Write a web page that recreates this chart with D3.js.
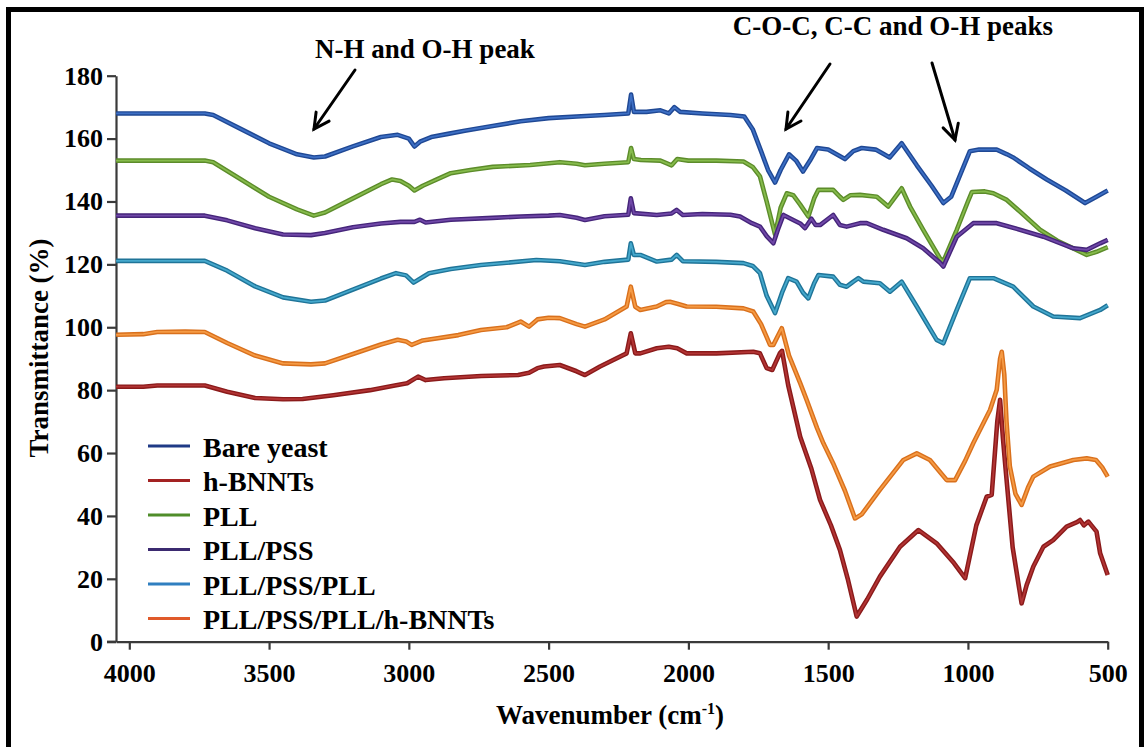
<!DOCTYPE html>
<html>
<head>
<meta charset="utf-8">
<script src="https://cdn.jsdelivr.net/npm/d3@7"></script>
<style>
  html, body { margin: 0; padding: 0; background: #ffffff; }
  svg { display: block; }
  text { font-family: "Liberation Serif", "Times New Roman", serif; font-weight: bold; fill: #000; }
</style>
</head>
<body>
<svg id="chart" width="1144" height="747"></svg>
<script>
// ---------------- DATA ----------------
const seriesNames = ["Bare yeast", "h-BNNTs", "PLL", "PLL/PSS", "PLL/PSS/PLL", "PLL/PSS/PLL/h-BNNTs"];
const xTickValues = [4000, 3500, 3000, 2500, 2000, 1500, 1000, 500];
const yTickValues = [0, 20, 40, 60, 80, 100, 120, 140, 160, 180];
const xTitle = "Wavenumber (cm";
const yTitle = "Transmittance (%)";
const annotationLeft = "N-H and O-H peak";
const annotationRight = "C-O-C, C-C and O-H peaks";

// [wavenumber (cm-1), transmittance (%)]
const bareYeast = [[4047,168],[3730,168],[3700,167.5],[3600,163],[3500,158.5],[3400,155],[3340,154],[3300,154.3],[3200,157.5],[3100,160.5],[3040,161.2],[3000,160],[2980,157.5],[2960,159],[2920,160.5],[2860,161.5],[2800,162.5],[2700,164],[2600,165.5],[2500,166.5],[2400,167],[2300,167.5],[2215,168],[2205,174],[2195,168.5],[2150,168.5],[2100,169],[2070,168],[2050,170],[2030,168.5],[1950,168],[1850,167.5],[1800,167],[1770,163],[1740,156],[1715,150],[1690,146],[1670,150],[1640,155],[1615,153],[1590,149.5],[1565,153],[1540,157],[1500,156.5],[1470,155],[1440,153.5],[1410,156],[1380,157],[1330,156.5],[1300,155],[1280,154],[1237,158.5],[1183,151.5],[1130,145],[1088,139.5],[1060,141.5],[1030,148],[993,156],[960,156.5],[897,156.5],[860,155],[838,154],[780,150.5],[718,147],[650,143.5],[581,139.5],[540,141.5],[500,143.5]];

const hBNNTs = [[4047,81.1],[3950,81.1],[3900,81.5],[3730,81.5],[3650,79.5],[3550,77.5],[3450,77.1],[3380,77.2],[3270,78.4],[3139,80],[3050,81.5],[3006,82.2],[2967,84.3],[2940,83.2],[2874,83.8],[2741,84.5],[2609,84.8],[2570,85.5],[2540,87],[2516,87.5],[2460,88],[2400,86],[2370,84.8],[2316,87.5],[2221,91.7],[2206,98.1],[2190,91.7],[2172,91.7],[2113,93.3],[2070,93.8],[2040,93.3],[2006,91.7],[1900,91.7],[1768,92.2],[1744,91.7],[1720,87],[1700,86.4],[1673,91.7],[1665,92.5],[1643,81.6],[1600,65.2],[1560,55],[1529,45.1],[1490,37],[1458,29.2],[1430,20],[1398,8],[1360,13.5],[1315,20.7],[1243,30.2],[1177,35.5],[1112,31.3],[1050,25],[1010,20.2],[970,37],[933,46.1],[915,46.7],[895,70],[885,76.9],[875,65],[867,56.7],[840,30],[808,12.2],[790,18],[766,23.9],[730,30.2],[695,32.3],[647,36.6],[610,38],[599,38.7],[585,37],[569,38.2],[540,35],[527,28.1],[500,21.2]];

const pll = [[4047,153],[3730,153],[3700,152.5],[3600,147],[3500,141.5],[3400,137.5],[3340,135.5],[3300,136.5],[3200,141],[3100,145.5],[3060,147],[3030,146.5],[3000,145],[2980,143.5],[2950,145],[2900,147],[2850,149],[2780,150],[2700,151],[2566,151.6],[2460,152.5],[2400,152],[2370,151.5],[2300,152],[2215,152.5],[2205,157],[2195,153.5],[2170,153.2],[2100,153],[2060,151.5],[2040,153.5],[2000,153],[1900,153],[1803,152.7],[1770,151],[1744,148],[1720,140],[1690,129.5],[1670,138],[1648,142.6],[1625,142],[1600,139],[1571,135.2],[1550,141],[1535,143.7],[1482,143.7],[1458,141.5],[1446,140.5],[1420,142],[1386,142.1],[1326,141.5],[1285,138.4],[1237,144.2],[1207,138.4],[1160,131],[1100,121.9],[1088,120.9],[1040,131],[1000,140],[986,143],[940,143.2],[909,142.6],[861,140.5],[814,136.8],[742,131],[680,127.5],[623,125.1],[575,123],[540,124],[500,125.5]];

const pllPss = [[4047,135.5],[3730,135.5],[3650,134],[3550,131.5],[3450,129.5],[3350,129.3],[3300,130],[3200,131.8],[3100,133],[3030,133.5],[2980,133.5],[2960,134.2],[2940,133.3],[2850,134.2],[2700,134.8],[2600,135.2],[2500,135.5],[2460,135.7],[2400,134.8],[2370,134.1],[2300,135.3],[2215,135.8],[2206,141],[2195,136.3],[2113,135.7],[2060,136.2],[2042,137.3],[2020,135.7],[1950,136],[1850,135.8],[1815,135.2],[1773,133.1],[1744,132],[1720,129],[1696,126.7],[1680,131],[1660,135.7],[1625,134.1],[1600,133],[1583,131.5],[1560,134.5],[1545,132.5],[1529,132.5],[1482,135.7],[1458,132.5],[1434,132],[1386,133.1],[1362,133.1],[1303,131],[1219,128.3],[1160,125.1],[1100,120.5],[1088,119.3],[1040,128.8],[981,133.1],[897,133.1],[814,131],[730,128.8],[623,125.1],[575,124.6],[527,126.7],[500,127.8]];

const pllPssPll = [[4047,121.1],[3730,121.1],[3650,118],[3550,113],[3450,109.5],[3350,108.1],[3300,108.5],[3200,112],[3100,115.5],[3046,117.2],[3010,116.5],[2983,114.2],[2950,116],[2928,117.2],[2850,118.5],[2742,119.8],[2650,120.5],[2544,121.4],[2460,121],[2400,120.2],[2370,119.8],[2300,120.8],[2215,121.5],[2206,126.7],[2195,123],[2172,123],[2113,120.9],[2060,121.5],[2042,123],[2020,121],[1900,120.8],[1803,120.4],[1770,119.5],[1744,117.2],[1720,110],[1690,104.5],[1665,111],[1643,115.6],[1613,114.5],[1590,111],[1571,109.2],[1550,114],[1535,116.6],[1482,116.1],[1458,113.5],[1434,112.9],[1410,114.5],[1392,115.6],[1374,114.5],[1315,114],[1279,111.3],[1237,114.5],[1183,106.6],[1112,96],[1088,94.9],[1040,105.5],[993,115.6],[909,115.6],[838,112.9],[766,106.6],[695,103.4],[599,102.9],[527,105.5],[500,107]];

const pllPssPllBNNTs = [[4047,97.6],[3950,97.8],[3900,98.5],[3800,98.6],[3730,98.5],[3650,95],[3550,91],[3450,88.5],[3350,88.2],[3300,88.5],[3200,91.5],[3100,94.5],[3040,96],[3010,95.5],[2990,94.4],[2950,95.8],[2823,97.5],[2742,99.1],[2650,100],[2600,101.8],[2570,100.2],[2540,102.5],[2500,103],[2460,102.9],[2400,101],[2370,100.2],[2300,102.5],[2221,106.6],[2206,112.9],[2190,106.5],[2172,105.5],[2113,106.6],[2080,108],[2066,108.1],[2040,107.5],[2006,106.6],[1900,106.5],[1803,106],[1768,105],[1740,101],[1708,94.4],[1696,94.4],[1666,99.7],[1640,91],[1600,82.2],[1577,76.9],[1540,68],[1517,63.1],[1482,56.7],[1440,48],[1404,39.2],[1380,40.5],[1315,48.3],[1231,57.8],[1183,59.9],[1136,57.8],[1076,51.4],[1046,51.4],[1010,57.5],[981,63.1],[921,73.7],[897,80.1],[885,90],[879,92.2],[870,85],[862,70],[850,55.7],[830,47],[808,43.5],[785,49],[766,52.5],[706,55.7],[623,57.8],[575,58.3],[542,57.8],[520,55.5],[500,52.5]];

// ---------------- STYLE ----------------
const lineEdge   = ["#1f4894", "#8a1a1a", "#5c8c2a", "#45257a", "#1f7498", "#d9701c"];
const lineCenter = ["#3d6fc4", "#b23434", "#86bb4c", "#7048a8", "#45a8cc", "#f59a44"];
const legendColor = ["#1f3a86", "#a32222", "#4f8d2a", "#3b2a70", "#2f7fc0", "#e05a2a"];

const seriesData = [bareYeast, hBNNTs, pll, pllPss, pllPssPll, pllPssPllBNNTs];
const drawOrder = [0, 1, 2, 3, 4, 5];

const svg = d3.select("#chart");
svg.append("rect").attr("x", 0).attr("y", 0).attr("width", 1144).attr("height", 747).attr("fill", "#fff");

const x = d3.scaleLinear().domain([4047.6, 500]).range([116, 1107.7]);
const y = d3.scaleLinear().domain([0, 180]).range([641.7, 75.7]);

// axes
const axisColor = "#3a3a3a";
const gx = svg.append("g").attr("transform", `translate(0,${y(0)})`)
  .call(d3.axisBottom(x).tickValues(xTickValues).tickSize(8).tickSizeOuter(0).tickPadding(13.5).tickFormat(d3.format("d")));
const gy = svg.append("g").attr("transform", `translate(${x.range()[0]},0)`)
  .call(d3.axisLeft(y).tickValues(yTickValues).tickSize(9).tickSizeOuter(0).tickPadding(4).tickFormat(d3.format("d")));
[gx, gy].forEach(g => {
  g.select(".domain").attr("stroke", axisColor).attr("stroke-width", 2.2);
  g.selectAll(".tick line").attr("stroke", axisColor).attr("stroke-width", 2.2);
  g.selectAll(".tick text").attr("fill", "#000").style("font-size", "26px")
    .style("font-family", '"Liberation Serif", serif').style("font-weight", "bold");
});
// extend x axis line left to the y-axis zero tick
svg.append("line").attr("x1", x.range()[0] - 9).attr("x2", x.range()[0]).attr("y1", y(0)).attr("y2", y(0))
  .attr("stroke", axisColor).attr("stroke-width", 2.2);

// series lines
const line = d3.line().x(d => x(d[0])).y(d => y(d[1]));
drawOrder.forEach(i => {
  svg.append("path").datum(seriesData[i]).attr("d", line).attr("fill", "none")
    .attr("stroke", lineEdge[i]).attr("stroke-width", 4.6).attr("stroke-linejoin", "round");
  svg.append("path").datum(seriesData[i]).attr("d", line).attr("fill", "none")
    .attr("stroke", lineCenter[i]).attr("stroke-width", 1.8).attr("stroke-linejoin", "round");
});

// axis titles
const xt = svg.append("text").attr("x", 610).attr("y", 724).attr("text-anchor", "middle").style("font-size", "27px");
xt.append("tspan").text(xTitle);
xt.append("tspan").attr("dy", -10).style("font-size", "16px").text("-1");
xt.append("tspan").attr("dy", 10).text(")");

svg.append("text").attr("transform", "translate(48,348) rotate(-90)").attr("text-anchor", "middle")
  .style("font-size", "27px").text(yTitle);

// legend
const legendY0 = 446, legendStep = 34.5;
seriesNames.forEach((name, i) => {
  const ly = legendY0 + i * legendStep;
  svg.append("line").attr("x1", 148).attr("x2", 190).attr("y1", ly).attr("y2", ly)
    .attr("stroke", legendColor[i]).attr("stroke-width", 3);
  svg.append("text").attr("x", 203).attr("y", ly + 10.5).style("font-size", "28px").text(name);
});

// annotations
svg.append("text").attr("x", 425).attr("y", 58).attr("text-anchor", "middle").style("font-size", "27px").text(annotationLeft);
svg.append("text").attr("x", 893).attr("y", 35).attr("text-anchor", "middle").style("font-size", "27px").text(annotationRight);

function arrow(x1, y1, x2, y2) {
  const g = svg.append("g").attr("stroke", "#000").attr("stroke-width", 3).attr("fill", "none").attr("stroke-linecap", "round");
  g.append("line").attr("x1", x1).attr("y1", y1).attr("x2", x2).attr("y2", y2);
  const ang = Math.atan2(y2 - y1, x2 - x1), L = 17, a = Math.PI / 6.5;
  const p1 = [x2 - L * Math.cos(ang - a), y2 - L * Math.sin(ang - a)];
  const p2 = [x2 - L * Math.cos(ang + a), y2 - L * Math.sin(ang + a)];
  g.append("path").attr("d", `M${p1[0]},${p1[1]} L${x2},${y2} L${p2[0]},${p2[1]}`).attr("stroke-linejoin", "miter");
}
arrow(355, 70, 314, 129);
arrow(830, 64, 786, 129);
arrow(932, 63, 955, 140);

// outer frame
svg.append("rect").attr("x", 8.5).attr("y", 9.5).attr("width", 1133).attr("height", 760)
  .attr("fill", "none").attr("stroke", "#000").attr("stroke-width", 5);
</script>
</body>
</html>
